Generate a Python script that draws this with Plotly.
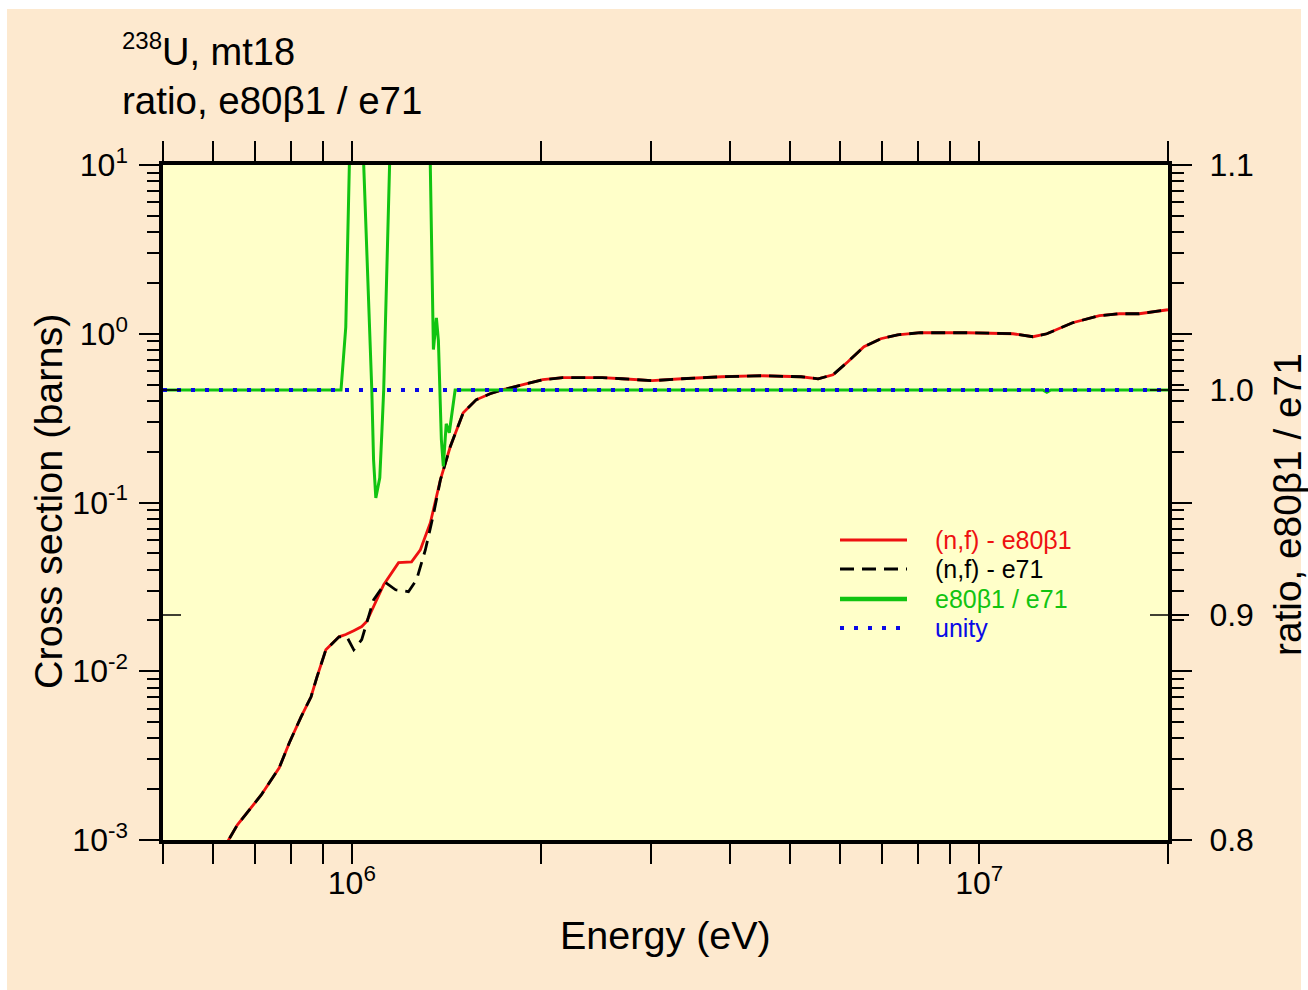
import plotly.graph_objects as go

# ---- data -------------------------------------------------------------
# (n,f) cross section of U-238, evaluation e80beta1
energy_e80 = [6.15e5, 6.36e5, 6.57e5, 6.92e5, 7.17e5, 7.66e5, 7.95e5, 8.30e5,
              8.61e5, 8.80e5, 9.09e5, 9.54e5, 9.78e5, 1.007e6, 1.037e6, 1.056e6,
              1.124e6, 1.187e6, 1.245e6, 1.286e6, 1.334e6, 1.384e6, 1.435e6,
              1.505e6, 1.578e6, 1.661e6, 1.741e6, 1.874e6, 2.015e6, 2.168e6,
              2.507e6, 2.698e6, 3.010e6, 3.358e6, 3.886e6, 4.497e6, 5.203e6,
              5.537e6, 5.848e6, 6.177e6, 6.551e6, 6.968e6, 7.413e6, 8.062e6,
              9.572e6, 1.132e7, 1.218e7, 1.282e7, 1.409e7, 1.555e7, 1.673e7,
              1.799e7, 2.0e7]
sigma_e80 = [7.85e-4, 1.00e-3, 1.23e-3, 1.57e-3, 1.85e-3, 2.68e-3, 3.77e-3, 5.37e-3,
             7.06e-3, 9.27e-3, 1.34e-2, 1.60e-2, 1.65e-2, 1.74e-2, 1.84e-2, 1.97e-2,
             3.26e-2, 4.40e-2, 4.45e-2, 5.25e-2, 7.59e-2, 0.136, 0.214,
             0.340, 0.406, 0.441, 0.466, 0.499, 0.534, 0.549,
             0.549, 0.541, 0.527, 0.541, 0.556, 0.564, 0.556,
             0.541, 0.571, 0.683, 0.838, 0.934, 0.986, 1.014,
             1.014, 1.000, 0.960, 1.000, 1.162, 1.279, 1.314,
             1.314, 1.388]

# (n,f) cross section of U-238, evaluation e71
energy_e71 = [6.15e5, 6.36e5, 6.57e5, 6.92e5, 7.17e5, 7.66e5, 7.95e5, 8.30e5,
              8.61e5, 8.80e5, 9.09e5, 9.54e5, 9.82e5, 1.007e6, 1.037e6, 1.083e6,
              1.132e6, 1.174e6, 1.231e6, 1.268e6, 1.310e6, 1.349e6, 1.384e6,
              1.435e6, 1.505e6, 1.578e6, 1.661e6, 1.741e6, 1.874e6, 2.015e6,
              2.168e6, 2.507e6, 2.698e6, 3.010e6, 3.358e6, 3.886e6, 4.497e6,
              5.203e6, 5.537e6, 5.848e6, 6.177e6, 6.551e6, 6.968e6, 7.413e6,
              8.062e6, 9.572e6, 1.132e7, 1.218e7, 1.282e7, 1.409e7, 1.555e7,
              1.673e7, 1.799e7, 2.0e7]
sigma_e71 = [7.85e-4, 1.00e-3, 1.23e-3, 1.57e-3, 1.85e-3, 2.68e-3, 3.77e-3, 5.37e-3,
             7.06e-3, 9.27e-3, 1.34e-2, 1.60e-2, 1.60e-2, 1.34e-2, 1.54e-2, 2.65e-2,
             3.35e-2, 3.04e-2, 2.96e-2, 3.48e-2, 5.25e-2, 8.46e-2, 0.136,
             0.214, 0.340, 0.406, 0.441, 0.466, 0.499, 0.534,
             0.549, 0.549, 0.541, 0.527, 0.541, 0.556, 0.564,
             0.556, 0.541, 0.571, 0.683, 0.838, 0.934, 0.986,
             1.014, 1.014, 1.000, 0.960, 1.000, 1.162, 1.279,
             1.314, 1.314, 1.388]

# ratio e80beta1 / e71
ratio_energy = [5.0e5, 9.61e5, 9.78e5, 1.011e6, 1.076e6, 1.083e6, 1.092e6, 1.099e6,
                1.108e6, 1.116e6, 1.124e6, 1.258e6, 1.349e6, 1.364e6, 1.374e6,
                1.389e6, 1.399e6, 1.414e6, 1.430e6, 1.461e6, 1.263e7, 1.282e7,
                1.301e7, 2.0e7]
ratio_value = [1.0, 1.0, 1.028, 1.21, 1.0, 0.969, 0.952, 0.956,
               0.961, 0.980, 1.0, 1.52, 1.018, 1.032, 1.022,
               0.978, 0.966, 0.985, 0.981, 1.0, 1.0, 0.999,
               1.0, 1.0]

unity_energy = [5.0e5, 2.0e7]
unity_value = [1.0, 1.0]

# ---- ticks ------------------------------------------------------------
energy_tickvals = [1e6, 1e7]
energy_ticktext = ["10<sup>6</sup>", "10<sup>7</sup>"]
xs_tickvals = [1e-3, 1e-2, 1e-1, 1e0, 1e1]
xs_ticktext = ["10<sup>-3</sup>", "10<sup>-2</sup>", "10<sup>-1</sup>",
               "10<sup>0</sup>", "10<sup>1</sup>"]
ratio_ticks = [0.8, 0.9, 1.0, 1.1]

# ---- style ------------------------------------------------------------
FONT = "Liberation Sans, Arial, Helvetica, sans-serif"
RED = "#ee1111"
BLACK = "#000000"
GREEN = "#11c411"
BLUE = "#0a0ae6"
PEACH = "#fde9cf"
PLOT_BG = "#ffffc9"

W, H = 1308, 990
L, R, T, B = 163, 1168, 165, 840   # plot area in pixels


def px_x(p):
    return (p - L) / (R - L)


def px_y(p):
    return (B - p) / (B - T)


fig = go.Figure()

fig.add_trace(go.Scatter(x=energy_e80, y=sigma_e80, mode="lines",
                         line=dict(color=RED, width=2.8), showlegend=False))
fig.add_trace(go.Scatter(x=energy_e71, y=sigma_e71, mode="lines",
                         line=dict(color=BLACK, width=2.8, dash="14px,8px"),
                         showlegend=False))
fig.add_trace(go.Scatter(x=ratio_energy, y=ratio_value, mode="lines", yaxis="y2",
                         line=dict(color=GREEN, width=3), showlegend=False))
fig.add_trace(go.Scatter(x=unity_energy, y=unity_value, mode="lines", yaxis="y2",
                         line=dict(color=BLUE, width=4, dash="4px,10px"),
                         showlegend=False))

tick_common = dict(ticks="outside", tickcolor="black", tickwidth=1.5,
                   showgrid=False, zeroline=False,
                   tickfont=dict(family=FONT, size=32, color="black"))

fig.update_layout(
    width=W, height=H,
    margin=dict(l=L, r=W - R, t=T, b=H - B, pad=0),
    paper_bgcolor=PEACH,
    plot_bgcolor=PLOT_BG,
    font=dict(family=FONT, color="black"),
    xaxis=dict(type="log", range=[5.69897, 7.30103],
               tickvals=energy_tickvals, ticktext=energy_ticktext,
               ticklen=20, ticklabelstandoff=-8,
               showline=True, linecolor="black", linewidth=3.5, mirror="allticks",
               minor=dict(ticks="outside", dtick="D1", ticklen=11,
                          tickwidth=1.5, tickcolor="black"),
               **tick_common),
    yaxis=dict(type="log", range=[-3, 1],
               tickvals=xs_tickvals, ticktext=xs_ticktext, ticklen=20,
               ticklabelstandoff=5,
               showline=True, linecolor="black", linewidth=3.5, mirror="allticks",
               minor=dict(ticks="outside", dtick="D1", ticklen=12,
                          tickwidth=1.5, tickcolor="black"),
               **tick_common),
    yaxis2=dict(overlaying="y", side="right", range=[0.8, 1.1],
                tickvals=ratio_ticks, tickformat=".1f", ticklen=20,
                ticklabelstandoff=14,
                showline=False, **tick_common),
)

# white strips around the outer frame
shapes = [
    dict(type="rect", xref="paper", yref="paper", layer="above",
         x0=px_x(-5), x1=px_x(W + 5), y0=px_y(9), y1=px_y(-5),
         fillcolor="white", line=dict(width=0)),
    dict(type="rect", xref="paper", yref="paper", layer="above",
         x0=px_x(-5), x1=px_x(7), y0=px_y(H + 5), y1=px_y(-5),
         fillcolor="white", line=dict(width=0)),
    dict(type="rect", xref="paper", yref="paper", layer="above",
         x0=px_x(1301), x1=px_x(W + 5), y0=px_y(H + 5), y1=px_y(-5),
         fillcolor="white", line=dict(width=0)),
]

# inward parts of the ratio-axis ticks on both sides
for v in ratio_ticks[1:-1]:
    shapes.append(dict(type="line", xref="x domain", yref="y2",
                       x0=0, x1=18 / (R - L), y0=v, y1=v,
                       line=dict(color="black", width=1.5)))
    shapes.append(dict(type="line", xref="x domain", yref="y2",
                       x0=1 - 18 / (R - L), x1=1, y0=v, y1=v,
                       line=dict(color="black", width=1.5)))

# legend
legend_rows = [
    ("(n,f) - e80β1", RED, 2.8, "solid", 540),
    ("(n,f) - e71", BLACK, 2.8, "14px,8px", 569),
    ("e80β1 / e71", GREEN, 4.5, "solid", 599),
    ("unity", BLUE, 4, "4px,10px", 628),
]
annotations = []
for label, color, width, dash, ypx in legend_rows:
    shapes.append(dict(type="line", xref="paper", yref="paper",
                       x0=px_x(840), x1=px_x(907), y0=px_y(ypx), y1=px_y(ypx),
                       line=dict(color=color, width=width, dash=dash)))
    annotations.append(dict(xref="paper", yref="paper", x=px_x(933), y=px_y(ypx),
                            xanchor="left", yanchor="middle", showarrow=False,
                            text=label, font=dict(family=FONT, size=25, color=color)))

# title lines
annotations.append(dict(xref="paper", yref="paper", x=px_x(120), y=px_y(50),
                        xanchor="left", yanchor="middle", showarrow=False,
                        text="<sup><span style='font-size:24px'>238</span></sup>U, mt18",
                        font=dict(family=FONT, size=38, color="black")))
annotations.append(dict(xref="paper", yref="paper", x=px_x(120), y=px_y(101),
                        xanchor="left", yanchor="middle", showarrow=False,
                        text="ratio, e80β1 / e71",
                        font=dict(family=FONT, size=38.5, color="black")))

# axis titles
annotations.append(dict(xref="paper", yref="paper", x=0.5, y=px_y(935),
                        xanchor="center", yanchor="middle", showarrow=False,
                        text="Energy (eV)", font=dict(family=FONT, size=39.5)))
annotations.append(dict(xref="paper", yref="paper", x=px_x(48), y=px_y(502),
                        xanchor="center", yanchor="middle", showarrow=False,
                        textangle=-90, text="Cross section (barns)",
                        font=dict(family=FONT, size=39.5)))
annotations.append(dict(xref="paper", yref="paper", x=px_x(1287), y=px_y(505),
                        xanchor="center", yanchor="middle", showarrow=False,
                        textangle=-90, text="ratio, e80β1 / e71",
                        font=dict(family=FONT, size=38.8)))

fig.update_layout(shapes=shapes, annotations=annotations)

fig.write_html("out.html")
